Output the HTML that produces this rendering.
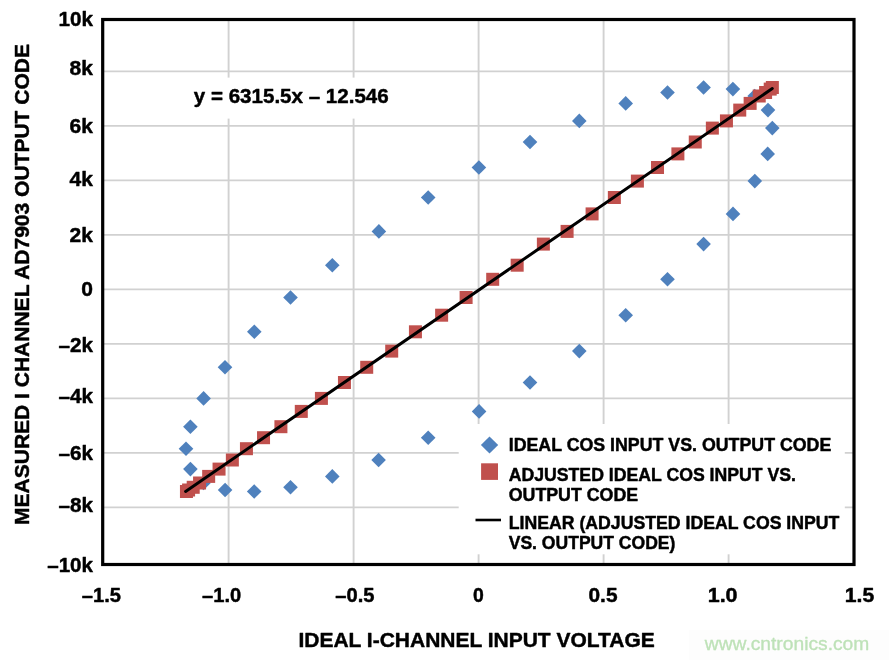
<!DOCTYPE html>
<html lang="en"><head><meta charset="utf-8"><title>Ideal I-Channel Input Voltage vs. Measured Output Code</title>
<style>html,body{margin:0;padding:0;background:#fff;}body{width:889px;height:660px;overflow:hidden;}svg{display:block;}text{font-family:"Liberation Sans",Arial,Helvetica,sans-serif;font-weight:bold;fill:#000;stroke:#000;stroke-width:0.45px;stroke-linejoin:round;}</style>
</head><body>
<svg width="889" height="660" viewBox="0 0 889 660">
<rect x="0" y="0" width="889" height="660" fill="#ffffff"/>
<g stroke="#d1d1d1" stroke-width="1.9" fill="none">
<line x1="228.60" y1="20" x2="228.60" y2="564"/>
<line x1="353.60" y1="20" x2="353.60" y2="564"/>
<line x1="478.60" y1="20" x2="478.60" y2="564"/>
<line x1="603.60" y1="20" x2="603.60" y2="564"/>
<line x1="728.60" y1="20" x2="728.60" y2="564"/>
<line x1="103" y1="507.40" x2="854" y2="507.40"/>
<line x1="103" y1="452.90" x2="854" y2="452.90"/>
<line x1="103" y1="398.40" x2="854" y2="398.40"/>
<line x1="103" y1="343.90" x2="854" y2="343.90"/>
<line x1="103" y1="289.40" x2="854" y2="289.40"/>
<line x1="103" y1="234.90" x2="854" y2="234.90"/>
<line x1="103" y1="180.40" x2="854" y2="180.40"/>
<line x1="103" y1="125.90" x2="854" y2="125.90"/>
<line x1="103" y1="71.40" x2="854" y2="71.40"/>
</g>
<rect x="186" y="77.6" width="210" height="41" fill="#fff"/>
<rect x="458.7" y="424" width="386.1" height="130.3" fill="#fff"/>
<g fill="#4f81bd">
<path d="M772.30 120.80 L779.60 128.10 L772.30 135.40 L765.00 128.10Z"/>
<path d="M768.00 102.80 L775.30 110.10 L768.00 117.40 L760.70 110.10Z"/>
<path d="M754.70 88.70 L762.00 96.00 L754.70 103.30 L747.40 96.00Z"/>
<path d="M732.90 81.80 L740.20 89.10 L732.90 96.40 L725.60 89.10Z"/>
<path d="M703.60 80.20 L710.90 87.50 L703.60 94.80 L696.30 87.50Z"/>
<path d="M667.50 85.20 L674.80 92.50 L667.50 99.80 L660.20 92.50Z"/>
<path d="M625.70 96.10 L633.00 103.40 L625.70 110.70 L618.40 103.40Z"/>
<path d="M579.30 113.60 L586.60 120.90 L579.30 128.20 L572.00 120.90Z"/>
<path d="M530.00 134.70 L537.30 142.00 L530.00 149.30 L522.70 142.00Z"/>
<path d="M478.90 160.20 L486.20 167.50 L478.90 174.80 L471.60 167.50Z"/>
<path d="M428.20 190.20 L435.50 197.50 L428.20 204.80 L420.90 197.50Z"/>
<path d="M378.90 224.10 L386.20 231.40 L378.90 238.70 L371.60 231.40Z"/>
<path d="M332.30 257.90 L339.60 265.20 L332.30 272.50 L325.00 265.20Z"/>
<path d="M290.50 290.20 L297.80 297.50 L290.50 304.80 L283.20 297.50Z"/>
<path d="M254.30 324.50 L261.60 331.80 L254.30 339.10 L247.00 331.80Z"/>
<path d="M225.00 360.00 L232.30 367.30 L225.00 374.60 L217.70 367.30Z"/>
<path d="M203.60 391.10 L210.90 398.40 L203.60 405.70 L196.30 398.40Z"/>
<path d="M190.40 419.40 L197.70 426.70 L190.40 434.00 L183.10 426.70Z"/>
<path d="M186.00 441.40 L193.30 448.70 L186.00 456.00 L178.70 448.70Z"/>
<path d="M190.40 461.80 L197.70 469.10 L190.40 476.40 L183.10 469.10Z"/>
<path d="M203.50 475.70 L210.80 483.00 L203.50 490.30 L196.20 483.00Z"/>
<path d="M225.10 482.70 L232.40 490.00 L225.10 497.30 L217.80 490.00Z"/>
<path d="M254.20 484.20 L261.50 491.50 L254.20 498.80 L246.90 491.50Z"/>
<path d="M290.50 480.00 L297.80 487.30 L290.50 494.60 L283.20 487.30Z"/>
<path d="M332.30 469.10 L339.60 476.40 L332.30 483.70 L325.00 476.40Z"/>
<path d="M378.60 452.70 L385.90 460.00 L378.60 467.30 L371.30 460.00Z"/>
<path d="M428.20 430.40 L435.50 437.70 L428.20 445.00 L420.90 437.70Z"/>
<path d="M479.10 404.10 L486.40 411.40 L479.10 418.70 L471.80 411.40Z"/>
<path d="M530.00 375.20 L537.30 382.50 L530.00 389.80 L522.70 382.50Z"/>
<path d="M579.30 343.80 L586.60 351.10 L579.30 358.40 L572.00 351.10Z"/>
<path d="M625.70 307.90 L633.00 315.20 L625.70 322.50 L618.40 315.20Z"/>
<path d="M667.50 272.00 L674.80 279.30 L667.50 286.60 L660.20 279.30Z"/>
<path d="M703.60 236.80 L710.90 244.10 L703.60 251.40 L696.30 244.10Z"/>
<path d="M733.00 206.60 L740.30 213.90 L733.00 221.20 L725.70 213.90Z"/>
<path d="M754.80 173.80 L762.10 181.10 L754.80 188.40 L747.50 181.10Z"/>
<path d="M767.70 146.60 L775.00 153.90 L767.70 161.20 L760.40 153.90Z"/>
</g>
<g fill="#c0504d">
<rect x="705.86" y="121.60" width="13.0" height="13.0"/>
<rect x="733.25" y="103.60" width="13.0" height="13.0"/>
<rect x="752.73" y="89.50" width="13.0" height="13.0"/>
<rect x="763.71" y="82.60" width="13.0" height="13.0"/>
<rect x="765.85" y="81.00" width="13.0" height="13.0"/>
<rect x="759.09" y="86.00" width="13.0" height="13.0"/>
<rect x="743.63" y="96.90" width="13.0" height="13.0"/>
<rect x="719.95" y="114.40" width="13.0" height="13.0"/>
<rect x="688.76" y="135.50" width="13.0" height="13.0"/>
<rect x="651.01" y="161.00" width="13.0" height="13.0"/>
<rect x="607.85" y="191.00" width="13.0" height="13.0"/>
<rect x="560.59" y="224.90" width="13.0" height="13.0"/>
<rect x="510.67" y="258.70" width="13.0" height="13.0"/>
<rect x="459.60" y="291.00" width="13.0" height="13.0"/>
<rect x="408.93" y="325.30" width="13.0" height="13.0"/>
<rect x="360.21" y="360.80" width="13.0" height="13.0"/>
<rect x="314.91" y="391.90" width="13.0" height="13.0"/>
<rect x="274.41" y="420.20" width="13.0" height="13.0"/>
<rect x="239.94" y="442.20" width="13.0" height="13.0"/>
<rect x="212.55" y="462.60" width="13.0" height="13.0"/>
<rect x="193.07" y="476.50" width="13.0" height="13.0"/>
<rect x="182.09" y="483.50" width="13.0" height="13.0"/>
<rect x="179.95" y="485.00" width="13.0" height="13.0"/>
<rect x="186.71" y="480.80" width="13.0" height="13.0"/>
<rect x="202.17" y="469.90" width="13.0" height="13.0"/>
<rect x="225.85" y="453.50" width="13.0" height="13.0"/>
<rect x="257.04" y="431.20" width="13.0" height="13.0"/>
<rect x="294.79" y="404.90" width="13.0" height="13.0"/>
<rect x="337.95" y="376.00" width="13.0" height="13.0"/>
<rect x="385.21" y="344.60" width="13.0" height="13.0"/>
<rect x="435.13" y="308.70" width="13.0" height="13.0"/>
<rect x="486.20" y="272.80" width="13.0" height="13.0"/>
<rect x="536.87" y="237.60" width="13.0" height="13.0"/>
<rect x="585.59" y="207.40" width="13.0" height="13.0"/>
<rect x="630.89" y="174.60" width="13.0" height="13.0"/>
<rect x="671.39" y="147.40" width="13.0" height="13.0"/>
</g>
<line x1="185.60" y1="491.40" x2="772.30" y2="88.50" stroke="#000" stroke-width="3" stroke-linecap="round"/>
<rect x="102.7" y="19.5" width="751.3" height="545" fill="none" stroke="#000" stroke-width="3.2"/>
<text x="193.8" y="103" font-size="20" textLength="194.9" lengthAdjust="spacingAndGlyphs">y = 6315.5x – 12.546</text>
<text x="58.5" y="26.4" font-size="20" textLength="34.5" lengthAdjust="spacingAndGlyphs">10k</text>
<text x="69.6" y="74.8" font-size="20" textLength="23.4" lengthAdjust="spacingAndGlyphs">8k</text>
<text x="69.6" y="132.8" font-size="20" textLength="23.4" lengthAdjust="spacingAndGlyphs">6k</text>
<text x="69.6" y="185.6" font-size="20" textLength="23.4" lengthAdjust="spacingAndGlyphs">4k</text>
<text x="69.6" y="242.0" font-size="20" textLength="23.4" lengthAdjust="spacingAndGlyphs">2k</text>
<text x="81.3" y="295.5" font-size="20" textLength="11.7" lengthAdjust="spacingAndGlyphs">0</text>
<text x="58.5" y="351.5" font-size="20" textLength="34.5" lengthAdjust="spacingAndGlyphs">–2k</text>
<text x="58.5" y="402.9" font-size="20" textLength="34.5" lengthAdjust="spacingAndGlyphs">–4k</text>
<text x="58.5" y="460.0" font-size="20" textLength="34.5" lengthAdjust="spacingAndGlyphs">–6k</text>
<text x="58.5" y="511.5" font-size="20" textLength="34.5" lengthAdjust="spacingAndGlyphs">–8k</text>
<text x="47.2" y="572.2" font-size="20" textLength="45.8" lengthAdjust="spacingAndGlyphs">–10k</text>
<text x="81.8" y="601.7" font-size="20" textLength="39.2" lengthAdjust="spacingAndGlyphs">–1.5</text>
<text x="202.0" y="601.7" font-size="20" textLength="39.2" lengthAdjust="spacingAndGlyphs">–1.0</text>
<text x="335.3" y="601.7" font-size="20" textLength="39.2" lengthAdjust="spacingAndGlyphs">–0.5</text>
<text x="473.0" y="601.7" font-size="20" textLength="10.8" lengthAdjust="spacingAndGlyphs">0</text>
<text x="588.5" y="601.7" font-size="20" textLength="29.0" lengthAdjust="spacingAndGlyphs">0.5</text>
<text x="707.7" y="601.7" font-size="20" textLength="29.9" lengthAdjust="spacingAndGlyphs">1.0</text>
<text x="844.7" y="601.7" font-size="20" textLength="29.5" lengthAdjust="spacingAndGlyphs">1.5</text>
<text x="298.5" y="647" font-size="20.5" textLength="356.2" lengthAdjust="spacingAndGlyphs">IDEAL I-CHANNEL INPUT VOLTAGE</text>
<text transform="translate(29.1 525) rotate(-90)" x="0" y="0" font-size="20.5" textLength="481" lengthAdjust="spacingAndGlyphs">MEASURED I CHANNEL AD7903 OUTPUT CODE</text>
<path d="M489.5 436.4 L498.2 445 L489.5 453.6 L480.9 445Z" fill="#4f81bd"/>
<rect x="481.1" y="463.3" width="16.9" height="16.6" fill="#c0504d"/>
<line x1="475.5" y1="520" x2="501" y2="520" stroke="#000" stroke-width="2.6"/>
<text x="508.7" y="451.0" font-size="17.75" textLength="322.6" lengthAdjust="spacingAndGlyphs">IDEAL COS INPUT VS. OUTPUT CODE</text>
<text x="508.7" y="480.6" font-size="17.75" textLength="287.3" lengthAdjust="spacingAndGlyphs">ADJUSTED IDEAL COS INPUT VS.</text>
<text x="508.7" y="500.7" font-size="17.75" textLength="129.5" lengthAdjust="spacingAndGlyphs">OUTPUT CODE</text>
<text x="508.7" y="528.9" font-size="17.75" textLength="330.7" lengthAdjust="spacingAndGlyphs">LINEAR (ADJUSTED IDEAL COS INPUT</text>
<text x="508.7" y="549.4" font-size="17.75" textLength="166.7" lengthAdjust="spacingAndGlyphs">VS. OUTPUT CODE)</text>
<rect x="689" y="630" width="200" height="30" fill="#fdfdfd"/>
<text x="704.8" y="650.3" font-size="18.5" textLength="164.5" lengthAdjust="spacingAndGlyphs" style="font-weight:normal;fill:#bee2b8;stroke:#bee2b8;stroke-width:0.3px">www.cntronics.com</text>
</svg></body></html>
